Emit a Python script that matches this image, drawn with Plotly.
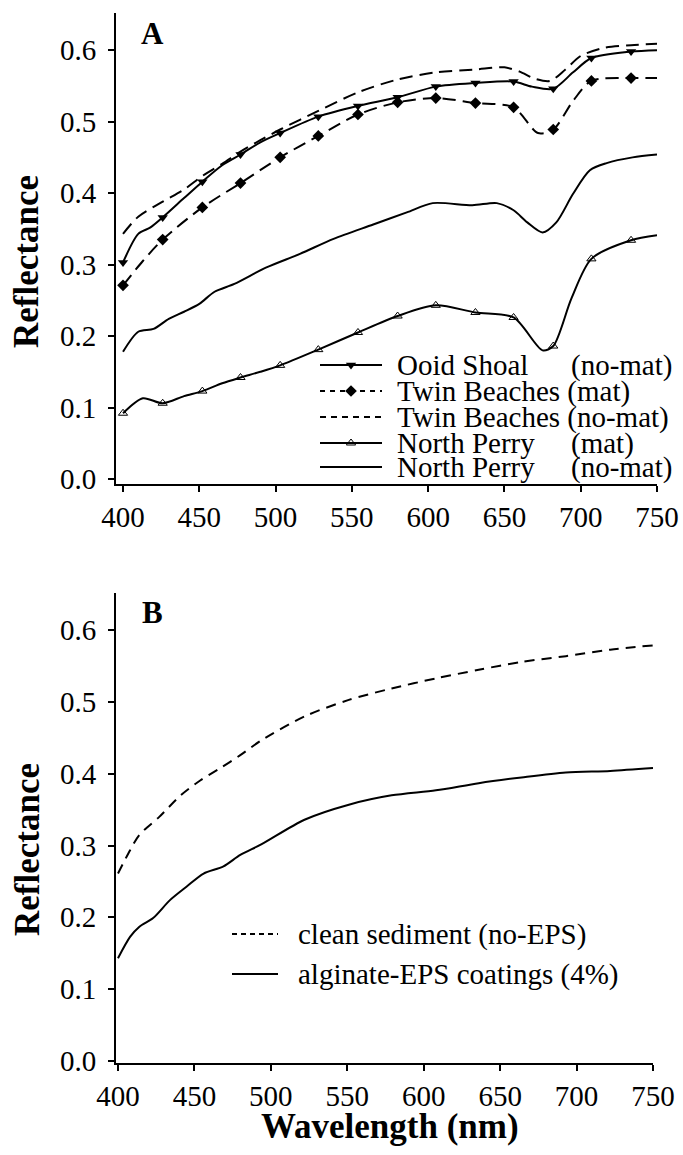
import plotly.graph_objects as go

# ---------------- Panel A data ----------------
ooid_wl = [400, 410, 418, 426, 440, 452, 465, 477, 490, 503, 528, 554, 580, 605, 631, 656, 668, 682, 695, 707, 733, 750]
ooid_r = [0.303, 0.343, 0.352, 0.366, 0.393, 0.416, 0.439, 0.454, 0.471, 0.484, 0.507, 0.522, 0.534, 0.549, 0.554, 0.556, 0.549, 0.546, 0.569, 0.589, 0.598, 0.600]

twin_nomat_wl = [400, 410, 426, 440, 452, 465, 477, 490, 503, 528, 554, 580, 605, 631, 650, 660, 670, 680, 690, 700, 715, 733, 750]
twin_nomat_r = [0.343, 0.367, 0.388, 0.405, 0.424, 0.441, 0.458, 0.474, 0.489, 0.515, 0.541, 0.559, 0.569, 0.573, 0.576, 0.570, 0.560, 0.557, 0.573, 0.592, 0.603, 0.607, 0.609]

twin_mat_wl = [400, 413, 426, 452, 477, 503, 528, 554, 580, 605, 631, 656, 672, 682, 695, 707, 733, 750]
twin_mat_r = [0.271, 0.305, 0.335, 0.380, 0.414, 0.450, 0.480, 0.510, 0.527, 0.533, 0.526, 0.520, 0.484, 0.489, 0.529, 0.557, 0.561, 0.561]

perry_nomat_wl = [400, 410, 420, 430, 440, 450, 460, 473, 494, 516, 538, 564, 586, 603, 629, 645, 656, 665, 675, 684, 695, 706, 717, 734, 750]
perry_nomat_r = [0.178, 0.206, 0.210, 0.224, 0.234, 0.245, 0.262, 0.273, 0.296, 0.315, 0.336, 0.356, 0.373, 0.386, 0.383, 0.386, 0.376, 0.359, 0.345, 0.359, 0.399, 0.432, 0.442, 0.450, 0.454]

perry_mat_wl = [400, 413, 426, 440, 452, 465, 477, 490, 503, 528, 554, 580, 605, 631, 656, 675, 682, 694, 707, 733, 750]
perry_mat_r = [0.092, 0.113, 0.106, 0.116, 0.123, 0.134, 0.142, 0.150, 0.159, 0.181, 0.205, 0.228, 0.243, 0.233, 0.226, 0.180, 0.186, 0.253, 0.308, 0.334, 0.341]

marker_wl = [400, 426, 452, 477, 503, 528, 554, 580, 605, 631, 656, 682, 707, 733]

legend_a_names = ["Ooid Shoal", "Twin Beaches", "Twin Beaches", "North Perry", "North Perry"]
legend_a_quals = ["(no-mat)", "(mat)", "(no-mat)", "(mat)", "(no-mat)"]

# ---------------- Panel B data ----------------
clean_wl = [400, 408, 414, 427, 441, 454, 467, 480, 494, 522, 551, 579, 608, 636, 664, 693, 722, 750]
clean_r = [0.261, 0.294, 0.315, 0.340, 0.370, 0.391, 0.408, 0.426, 0.447, 0.480, 0.503, 0.519, 0.533, 0.545, 0.556, 0.564, 0.573, 0.579]

eps_wl = [400, 408, 414, 423, 434, 445, 456, 469, 480, 494, 522, 551, 579, 608, 636, 664, 693, 722, 750]
eps_r = [0.143, 0.173, 0.187, 0.199, 0.224, 0.243, 0.261, 0.271, 0.287, 0.302, 0.336, 0.357, 0.370, 0.377, 0.387, 0.395, 0.402, 0.404, 0.408]

legend_b_labels = ["clean sediment (no-EPS)", "alginate-EPS coatings (4%)"]

y_ticks = [0.0, 0.1, 0.2, 0.3, 0.4, 0.5, 0.6]
y_ticktext = ["0.0", "0.1", "0.2", "0.3", "0.4", "0.5", "0.6"]
x_ticks = [400, 450, 500, 550, 600, 650, 700, 750]

# ---------------- layout geometry (pixels) ----------------
W, H = 683, 1155
L, R, T, B = 116, 26, 13, 92
PW = W - L - R
PH = H - T - B


def px(x):
    return (x - L) / PW


def py(y):
    return (H - B - y) / PH


SERIF = "Liberation Serif"
BLACK = "black"
LW = 2

fig = go.Figure()


def add_curve(wl, r, xa, ya, dash="solid", marker=None):
    fig.add_trace(go.Scatter(
        x=wl, y=r, mode="lines", xaxis=xa, yaxis=ya,
        line=dict(color=BLACK, width=LW, dash=dash, shape="spline", smoothing=0.8),
        showlegend=False, hoverinfo="skip"))
    if marker is not None:
        mx = [w for w in wl if w in marker_wl]
        my = [v for w, v in zip(wl, r) if w in marker_wl]
        fig.add_trace(go.Scatter(
            x=mx, y=my, mode="markers", xaxis=xa, yaxis=ya,
            marker=marker, showlegend=False, hoverinfo="skip"))


m_down = dict(symbol="triangle-down", size=9, color=BLACK)
m_diam = dict(symbol="diamond", size=9, color=BLACK)
m_up = dict(symbol="triangle-up-open", size=8, color=BLACK, line=dict(width=1, color=BLACK))

dashA = "13px,7px"
add_curve(twin_nomat_wl, twin_nomat_r, "x", "y", dash=dashA)
add_curve(twin_mat_wl, twin_mat_r, "x", "y", dash=dashA, marker=m_diam)
add_curve(ooid_wl, ooid_r, "x", "y", marker=m_down)
add_curve(perry_nomat_wl, perry_nomat_r, "x", "y")
add_curve(perry_mat_wl, perry_mat_r, "x", "y", marker=m_up)

dashB = "10px,7px"
add_curve(clean_wl, clean_r, "x2", "y2", dash=dashB)
add_curve(eps_wl, eps_r, "x2", "y2")

# ---------------- legends (overlay pixel axes) ----------------
leg_a_rows = [365, 391, 417, 443, 467]
leg_a_styles = [("solid", m_down), ("5px,5px", m_diam), ("6px,5px", None), ("solid", m_up), ("solid", None)]
x0, x1 = 320, 382
annotations = []
txt_font = dict(family=SERIF, size=29, color=BLACK)
for i, (yy, (ds, mk)) in enumerate(zip(leg_a_rows, leg_a_styles)):
    fig.add_trace(go.Scatter(x=[x0, x1], y=[yy, yy], mode="lines", xaxis="x3", yaxis="y3",
                             line=dict(color=BLACK, width=LW, dash=ds),
                             showlegend=False, hoverinfo="skip"))
    if mk is not None:
        fig.add_trace(go.Scatter(x=[(x0 + x1) / 2], y=[yy], mode="markers", xaxis="x3", yaxis="y3",
                                 marker=mk, showlegend=False, hoverinfo="skip"))
    if legend_a_names[i] == "Twin Beaches":
        annotations.append(dict(x=px(395), y=py(yy), xref="paper", yref="paper",
                                text=legend_a_names[i] + " " + legend_a_quals[i], showarrow=False,
                                xanchor="left", yanchor="middle", font=txt_font))
    else:
        annotations.append(dict(x=px(395), y=py(yy), xref="paper", yref="paper",
                                text=legend_a_names[i], showarrow=False,
                                xanchor="left", yanchor="middle", font=txt_font))
        annotations.append(dict(x=px(569), y=py(yy), xref="paper", yref="paper",
                                text=legend_a_quals[i], showarrow=False,
                                xanchor="left", yanchor="middle", font=txt_font))

leg_b_rows = [934, 974]
leg_b_styles = ["5px,4px", "solid"]
for lab, yy, ds in zip(legend_b_labels, leg_b_rows, leg_b_styles):
    fig.add_trace(go.Scatter(x=[232, 278], y=[yy, yy], mode="lines", xaxis="x3", yaxis="y3",
                             line=dict(color=BLACK, width=LW, dash=ds),
                             showlegend=False, hoverinfo="skip"))
    annotations.append(dict(x=px(296), y=py(yy), xref="paper", yref="paper",
                            text=lab, showarrow=False, xanchor="left", yanchor="middle",
                            font=txt_font))

# panel letters
annotations.append(dict(x=px(152), y=py(33), xref="paper", yref="paper", text="<b>A</b>",
                        showarrow=False, xanchor="center", yanchor="middle",
                        font=dict(family=SERIF, size=31, color=BLACK)))
annotations.append(dict(x=px(152), y=py(612), xref="paper", yref="paper", text="<b>B</b>",
                        showarrow=False, xanchor="center", yanchor="middle",
                        font=dict(family=SERIF, size=31, color=BLACK)))
# axis titles
for yc in (262, 850):
    annotations.append(dict(x=px(27), y=py(yc), xref="paper", yref="paper", text="<b>Reflectance</b>",
                            showarrow=False, textangle=-90, xanchor="center", yanchor="middle",
                            font=dict(family=SERIF, size=35, color=BLACK)))
annotations.append(dict(x=px(390), y=py(1126), xref="paper", yref="paper", text="<b>Wavelength (nm)</b>",
                        showarrow=False, xanchor="center", yanchor="middle",
                        font=dict(family=SERIF, size=35, color=BLACK)))

axis_common = dict(showline=True, linecolor=BLACK, linewidth=2, ticks="outside", ticklen=6,
                   tickwidth=2, tickcolor=BLACK, showgrid=False, zeroline=False,
                   tickfont=dict(family=SERIF, size=29, color=BLACK))

fig.update_layout(
    width=W, height=H,
    margin=dict(l=L, r=R, t=T, b=B, autoexpand=False),
    paper_bgcolor="white", plot_bgcolor="rgba(0,0,0,0)",
    showlegend=False,
    xaxis=dict(domain=[0, 1], anchor="y", range=[395.4, 750], tickvals=x_ticks,
               ticklabelstandoff=0, **axis_common),
    yaxis=dict(domain=[py(484), 1], anchor="x", range=[-0.007, 0.652], tickvals=y_ticks,
               ticktext=y_ticktext, ticklabelstandoff=6, **axis_common),
    xaxis2=dict(domain=[0, px(653)], anchor="y2", range=[398.7, 750], tickvals=x_ticks,
                ticklabelstandoff=0, **axis_common),
    yaxis2=dict(domain=[0, py(593)], anchor="x2", range=[-0.003, 0.652], tickvals=y_ticks,
                ticktext=y_ticktext, ticklabelstandoff=6, **axis_common),
    xaxis3=dict(domain=[0, 1], anchor="y3", range=[L, W - R], visible=False, fixedrange=True),
    yaxis3=dict(domain=[0, 1], anchor="x3", range=[H - B, T], visible=False, fixedrange=True),
    annotations=annotations,
)

fig.write_html("out.html", config={"displayModeBar": False, "staticPlot": True},
               post_script="document.body.style.margin='0';document.body.style.overflow='hidden';")
